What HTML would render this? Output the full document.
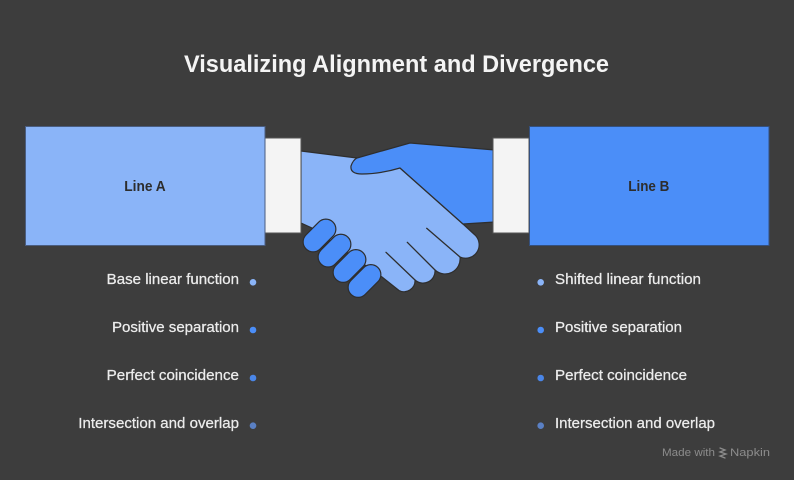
<!DOCTYPE html>
<html>
<head>
<meta charset="utf-8">
<style>
  html,body{margin:0;padding:0;background:#3d3d3d;}
  body{width:794px;height:480px;overflow:hidden;}
  svg{display:block;}
  text{font-family:"Liberation Sans", sans-serif;}
</style>
</head>
<body>
<svg width="794" height="480" viewBox="0 0 794 480" xmlns="http://www.w3.org/2000/svg">
  <rect x="0" y="0" width="794" height="480" fill="#3d3d3d"/>

  <!-- Title -->
  <text x="184" y="72" font-size="24" font-weight="bold" fill="#f4f4f4" textLength="425" lengthAdjust="spacingAndGlyphs">Visualizing Alignment and Divergence</text>

  <!-- Light hand -->
  <path d="M301,151 L357,158 L400,168 L463,224 L475,235 A13.5,13.5 0 0 1 460,257 A15,15 0 0 1 435,270 A12,12 0 0 1 415,280 A11,11 0 0 1 399,290.5 L382,277 L312,228 L301,223 Z"
        fill="#8ab4f8" stroke="#2e2e2e" stroke-width="1.2" stroke-linejoin="round"/>
  <!-- finger creases -->
  <line x1="426.7" y1="228.3" x2="460" y2="257" stroke="#2e2e2e" stroke-width="1.3" stroke-linecap="round"/>
  <line x1="407.3" y1="242.3" x2="435" y2="270" stroke="#2e2e2e" stroke-width="1.3" stroke-linecap="round"/>
  <line x1="386" y1="252.3" x2="415" y2="280" stroke="#2e2e2e" stroke-width="1.3" stroke-linecap="round"/>

  <!-- Dark hand -->
  <path d="M357,158 L410,143 L495,150 L495,222 L463,224 L400,168 Q380,174 362,174 Q350,174 351,166 Q353,160 357,158 Z"
        fill="#4b8ef8" stroke="#2e2e2e" stroke-width="1.2" stroke-linejoin="round"/>

  <!-- Dark fingers (capsules) -->
  <g fill="#4b8ef8" stroke="#2e2e2e" stroke-width="1.2">
    <rect x="-19" y="-10" width="38" height="20" rx="10" transform="translate(319.5,235.5) rotate(-45)"/>
    <rect x="-19" y="-10" width="38" height="20" rx="10" transform="translate(334.5,250.6) rotate(-45)"/>
    <rect x="-19" y="-10" width="38" height="20" rx="10" transform="translate(349.5,266) rotate(-45)"/>
    <rect x="-19" y="-10" width="38" height="20" rx="10" transform="translate(364.5,281) rotate(-45)"/>
  </g>

  <!-- Cuffs -->
  <rect x="265" y="138" width="36" height="95" fill="#f4f4f4" stroke="#555" stroke-width="1"/>
  <rect x="493" y="138" width="36" height="95" fill="#f4f4f4" stroke="#555" stroke-width="1"/>

  <!-- Boxes -->
  <rect x="25.5" y="126.5" width="239.5" height="119" fill="#8ab4f8" stroke="#4a5d80" stroke-width="1"/>
  <rect x="529.5" y="126.5" width="239.5" height="119" fill="#4b8ef8" stroke="#34507e" stroke-width="1"/>
  <text x="124.3" y="191" font-size="14.5" font-weight="bold" fill="#2d2d2d" textLength="41.4" lengthAdjust="spacingAndGlyphs">Line A</text>
  <text x="628.3" y="191" font-size="14.5" font-weight="bold" fill="#2d2d2d" textLength="41" lengthAdjust="spacingAndGlyphs">Line B</text>

  <!-- Lists -->
  <g font-size="14.5" fill="#ececec" stroke="#ececec" stroke-width="0.25">
    <text x="106.7" y="284" textLength="132.3" lengthAdjust="spacingAndGlyphs">Base linear function</text>
    <text x="112" y="332" textLength="127" lengthAdjust="spacingAndGlyphs">Positive separation</text>
    <text x="106.7" y="380" textLength="132.3" lengthAdjust="spacingAndGlyphs">Perfect coincidence</text>
    <text x="78.3" y="428" textLength="160.7" lengthAdjust="spacingAndGlyphs">Intersection and overlap</text>

    <text x="555" y="284" textLength="146" lengthAdjust="spacingAndGlyphs">Shifted linear function</text>
    <text x="555" y="332" textLength="127" lengthAdjust="spacingAndGlyphs">Positive separation</text>
    <text x="555" y="380" textLength="132" lengthAdjust="spacingAndGlyphs">Perfect coincidence</text>
    <text x="555" y="428" textLength="160" lengthAdjust="spacingAndGlyphs">Intersection and overlap</text>
  </g>

  <!-- Dots -->
  <circle cx="253" cy="282.3" r="3.3" fill="#8ab4f8"/>
  <circle cx="253" cy="330" r="3.3" fill="#4b8ef8"/>
  <circle cx="253" cy="378" r="3.3" fill="#4a86e8"/>
  <circle cx="253" cy="425.7" r="3.3" fill="#5a80c4"/>
  <circle cx="540.7" cy="282.3" r="3.3" fill="#8ab4f8"/>
  <circle cx="540.7" cy="330" r="3.3" fill="#4b8ef8"/>
  <circle cx="540.7" cy="378" r="3.3" fill="#4a86e8"/>
  <circle cx="540.7" cy="425.7" r="3.3" fill="#5a80c4"/>

  <!-- Footer -->
  <text x="662" y="456" font-size="11" fill="#8c8c8c" textLength="53" lengthAdjust="spacingAndGlyphs">Made with</text>
  <g stroke="#8c8c8c" stroke-width="1.3" fill="none" stroke-linecap="round">
    <path d="M720,448 L725,450 L720,452 L726,454 L720,456 L725,458"/>
  </g>
  <text x="730" y="456" font-size="11" fill="#8c8c8c" textLength="40" lengthAdjust="spacingAndGlyphs">Napkin</text>
</svg>
</body>
</html>
